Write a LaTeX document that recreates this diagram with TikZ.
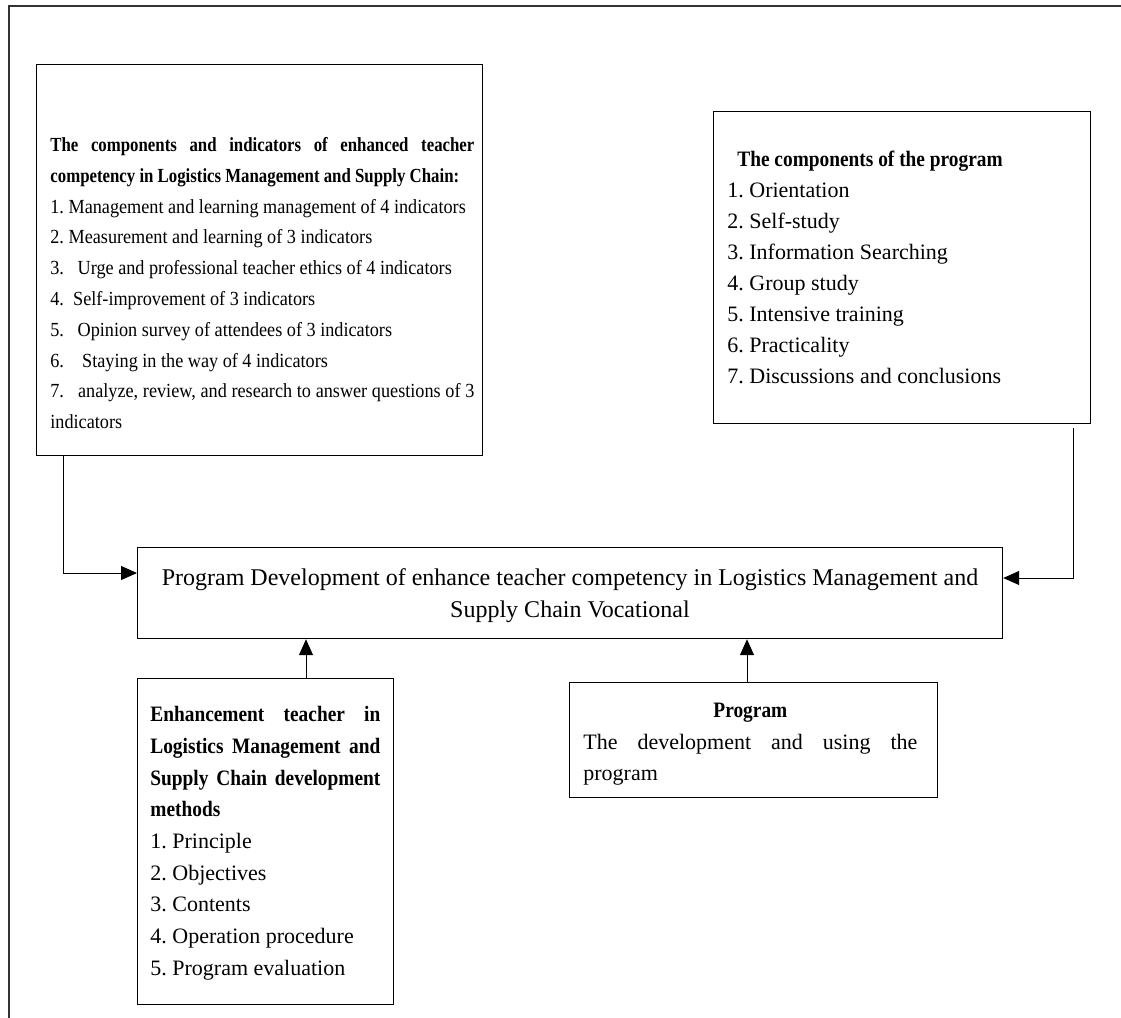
\documentclass[tikz,border=0pt]{standalone}
\usepackage{fontspec}
\setmainfont{Liberation Serif}
\newfontfamily\boxafont[FakeStretch=0.91]{Liberation Serif}
\newfontfamily\boxahead[FakeStretch=0.84]{Liberation Serif}
\newfontfamily\headfont[FakeStretch=0.88]{Liberation Serif}
\usetikzlibrary{arrows.meta}
\frenchspacing

% a line spread to the full width of its box
\newcommand{\fillline}[1]{\makebox[\hsize][s]{#1}}
% undo the wide ragged spacing of TikZ nodes
\newcommand{\normsp}{\spaceskip=0pt\xspaceskip=0pt\relax}

\tikzset{
  frame/.style={draw, line width=0.6pt, inner sep=0pt, anchor=north west},
  boxtext/.style={anchor=north west, inner sep=0pt, align=left},
  link/.style={-{Triangle[length=8pt,width=7pt]}, line width=0.5pt},
}

\begin{document}
\begin{tikzpicture}[x=0.5pt, y=-0.5pt]
    \useasboundingbox (0,0) rectangle (1121,1018);

    % Outer frame (left and top only)
    \draw[line width=0.6pt, black!80] (9,1018) -- (9,6) -- (1121,6);

    % Boxes
    \node[frame, minimum width=223pt, minimum height=195.5pt] (comp) at (36,64) {};
    \node[frame, minimum width=188.5pt, minimum height=156pt] (prog) at (713,111) {};
    \node[frame, minimum width=432.5pt, minimum height=45.5pt] (dev) at (137,547) {};
    \node[frame, minimum width=128pt, minimum height=163pt] (meth) at (137,678) {};
    \node[frame, minimum width=184pt, minimum height=57.5pt] (use) at (569,682) {};

    % Texts
    \node[boxtext, text width=212pt, font=\boxafont\fontsize{10}{15.4}\selectfont] (comptext) at (50,137) {\normsp
      \fillline{\boxahead\bfseries The components and indicators of enhanced teacher}\\
      {\boxahead\bfseries competency in Logistics Management and Supply Chain:}\\
      1. Management and learning management of 4 indicators\\
      2. Measurement and learning of 3 indicators\\
      3. \ \ Urge and professional teacher ethics of 4 indicators\\
      4. \ Self-improvement of 3 indicators\\
      5. \ \ Opinion survey of attendees of 3 indicators\\
      6. \ \ \ Staying in the way of 4 indicators\\
      \fillline{7. \ \ analyze, review, and research to answer questions of 3}\\
      indicators};
    \node[boxtext, text width=170pt, font=\fontsize{11}{15.5}\selectfont] (progtext) at (727,151) {\normsp
      \hspace*{5pt}{\headfont\bfseries The components of the program}\\
      1. Orientation\\
      2. Self-study\\
      3. Information Searching\\
      4. Group study\\
      5. Intensive training\\
      6. Practicality\\
      7. Discussions and conclusions};
    \node[boxtext, align=center, anchor=north,
      font=\fontsize{12}{16}\selectfont] (devtext) at (570,568) {\normsp
      Program Development of enhance teacher competency in Logistics Management and\\
      Supply Chain Vocational};
    \node[boxtext, text width=115pt, font=\fontsize{11}{15.85}\selectfont] (methtext) at (150,706) {\normsp
      \fillline{\headfont\bfseries Enhancement teacher in}\\
      \fillline{\headfont\bfseries Logistics Management and}\\
      \fillline{\headfont\bfseries Supply Chain development}\\
      {\headfont\bfseries methods}\\
      1. Principle\\
      2. Objectives\\
      3. Contents\\
      4. Operation procedure\\
      5. Program evaluation};
    \node[boxtext, text width=167pt, font=\fontsize{11}{15.7}\selectfont] (usetext) at (583,703) {\normsp
      \makebox[\hsize]{\headfont\bfseries Program}\\
      \fillline{The development and using the}\\
      program};

    % Connectors
    \coordinate (ljoin) at (63,573);
    \coordinate (rjoin) at (1073,578);
    \draw[link] (comp.south -| ljoin) -- (ljoin) -- (ljoin -| dev.west);
    \draw[link] (1073,428) -- (rjoin) -- (rjoin -| dev.east);
    \coordinate (lup) at (306,678);
    \coordinate (rup) at (747,682);
    \draw[link] (lup) -- (lup |- dev.south);
    \draw[link] (rup) -- (rup |- dev.south);
\end{tikzpicture}
\end{document}
